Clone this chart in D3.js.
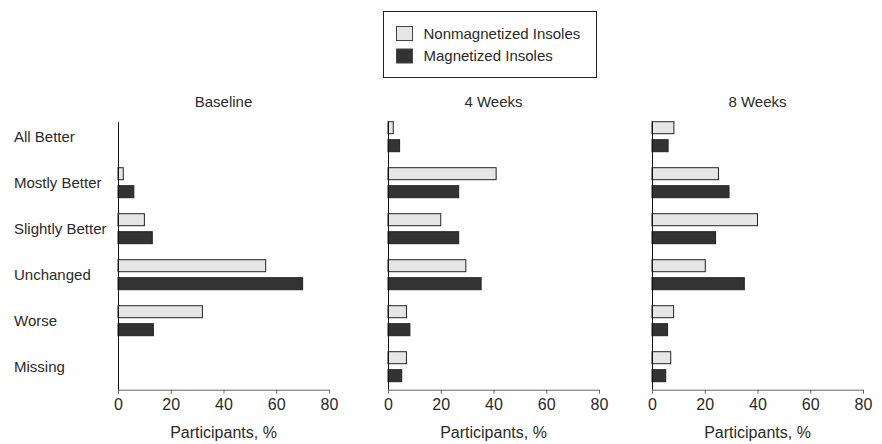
<!DOCTYPE html>
<html lang="en">
<head>
  <meta charset="UTF-8">
  <title>Insoles</title>
  <script src="https://d3js.org/d3.v7.min.js"></script>
  <style>
    html, body { margin: 0; padding: 0; background: #fff; }
    body { font-family: 'Liberation Sans', Arial, sans-serif; }
    text { fill: #2a2a2a; }
  </style>
</head>
<body>
  <div id="chart"></div>
  <script>
    var categories = ["All Better", "Mostly Better", "Slightly Better", "Unchanged", "Worse", "Missing"];
    var seriesNames = ["Nonmagnetized Insoles", "Magnetized Insoles"];
    var panelTitles = ["Baseline", "4 Weeks", "8 Weeks"];
    var xTicks = [0, 20, 40, 60, 80];

    // values per panel, one array per series (in category order)
    var baselineNon = [0, 2, 10, 56, 32, 0];
    var baselineMag = [0, 6, 13, 70, 13.4, 0];
    var week4Non = [2, 41, 20, 29.5, 7, 7];
    var week4Mag = [4.4, 26.8, 26.8, 35.3, 8.3, 5.2];
    var week8Non = [8.3, 25.2, 40, 20.2, 8.2, 7.1];
    var week8Mag = [6.1, 29.2, 24.1, 35, 5.9, 5.2];

    var panelData = [
      [baselineNon, baselineMag],
      [week4Non, week4Mag],
      [week8Non, week8Mag]
    ];

    var width = 882, height = 444,
        colors = ["#e6e6e6", "#333333"],
        panelLeft = [118, 388, 652],
        panelWidth = 211,
        yTop = 113.7, yBottom = 389.7;

    var svg = d3.select("#chart").append("svg")
      .attr("width", width)
      .attr("height", height)
      .style("display", "block");

    var x = d3.scaleLinear().domain([0, 80]).range([0, panelWidth]);
    var y = d3.scaleBand().domain(categories).range([yTop, yBottom]).paddingInner(0.348).paddingOuter(0.174);
    var ySub = d3.scaleBand().domain([0, 1]).range([0, y.bandwidth()]).paddingInner(0.333);

    // category labels on the left
    svg.append("g").selectAll("text")
      .data(categories)
      .enter().append("text")
      .attr("x", 14)
      .attr("y", function(d) { return y(d) + y.bandwidth() / 2; })
      .attr("dy", "0.35em")
      .attr("font-size", "15px")
      .text(function(d) { return d; });

    panelData.forEach(function(series, p) {
      var g = svg.append("g").attr("transform", "translate(" + panelLeft[p] + ",0)");

      g.append("text")
        .attr("x", panelWidth / 2)
        .attr("y", 102)
        .attr("dy", "0.35em")
        .attr("text-anchor", "middle")
        .attr("font-size", "15px")
        .text(panelTitles[p]);

      series.forEach(function(vals, s) {
        var rows = vals.map(function(v, i) { return { cat: categories[i], value: v }; })
          .filter(function(d) { return d.value > 0; });
        g.append("g").selectAll("rect")
          .data(rows)
          .enter().append("rect")
          .attr("x", x(0))
          .attr("y", function(d) { return y(d.cat) + ySub(s); })
          .attr("width", function(d) { return x(d.value) - x(0); })
          .attr("height", ySub.bandwidth())
          .attr("fill", colors[s])
          .attr("stroke", "#222")
          .attr("stroke-width", 1);
      });

      var axis = g.append("g")
        .attr("transform", "translate(0," + yBottom + ")")
        .call(d3.axisBottom(x).tickValues(xTicks).tickSize(4).tickPadding(5).tickFormat(d3.format("d")));
      axis.select(".domain").attr("stroke", "#666").attr("d", "M0.5,0.5H" + (panelWidth + 0.5));
      axis.selectAll(".tick line").attr("stroke", "#666");
      axis.selectAll(".tick text")
        .attr("font-size", "16px")
        .attr("font-family", "'Liberation Sans', Arial, sans-serif")
        .attr("fill", "#2a2a2a");

      g.append("line")
        .attr("x1", 0.5).attr("x2", 0.5)
        .attr("y1", 122).attr("y2", yBottom)
        .attr("stroke", "#111");

      g.append("text")
        .attr("x", panelWidth / 2)
        .attr("y", 432)
        .attr("dy", "0.35em")
        .attr("text-anchor", "middle")
        .attr("font-size", "16px")
        .text("Participants, %");
    });

    // legend
    var legend = svg.append("g");
    legend.append("rect")
      .attr("x", 383.5).attr("y", 11.5)
      .attr("width", 213).attr("height", 66)
      .attr("fill", "#fff").attr("stroke", "#222");
    var items = legend.selectAll(".item")
      .data(seriesNames)
      .enter().append("g")
      .attr("transform", function(d, i) { return "translate(396.5," + (26.5 + i * 22.5) + ")"; });
    items.append("rect")
      .attr("width", 16).attr("height", 14)
      .attr("fill", function(d, i) { return colors[i]; })
      .attr("stroke", "#444");
    items.append("text")
      .attr("x", 27).attr("y", 7)
      .attr("dy", "0.35em")
      .attr("font-size", "15px")
      .text(function(d) { return d; });
  </script>
</body>
</html>
